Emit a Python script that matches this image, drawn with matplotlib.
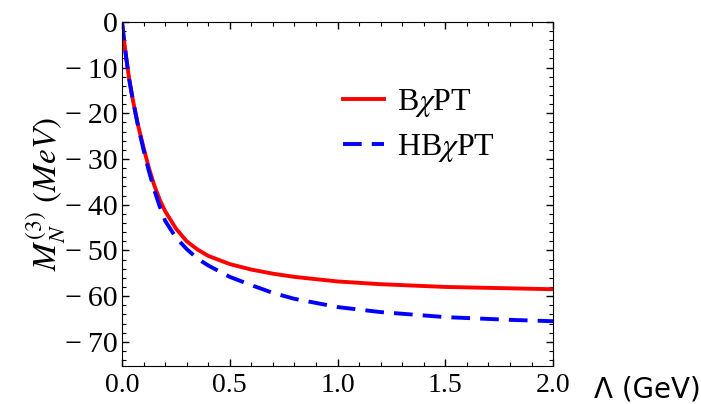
import numpy as np
import matplotlib.pyplot as plt
from matplotlib.ticker import MultipleLocator, FuncFormatter

# values
lam = [0, 0.01, 0.02, 0.035, 0.05, 0.075, 0.1, 0.125, 0.15, 0.175, 0.2, 0.25, 0.3, 0.35,
       0.4, 0.5, 0.6, 0.7, 0.8, 1.0, 1.2, 1.5, 1.8, 2.0]
m_bchpt = [0, -4.2, -8, -13, -17, -22.7, -27.5, -32, -35.8, -38.9, -41.4, -45.2, -48, -49.8,
           -51.2, -53, -54.2, -55.1, -55.8, -56.8, -57.4, -58.0, -58.3, -58.5]
m_hbchpt = [0, -4.2, -8, -13, -17, -22.9, -28, -32.7, -36.8, -40.4, -43.5, -47.2, -49.7, -51.8,
            -53.3, -55.8, -57.6, -59.3, -60.6, -62.4, -63.5, -64.6, -65.2, -65.5]

plt.rcParams['mathtext.fontset'] = 'stix'
plt.rcParams['font.family'] = 'Liberation Serif'

fig = plt.figure(figsize=(7.01, 4.04), dpi=100)
ax = fig.add_axes([0.174, 0.094, 0.615, 0.852])

ax.plot(lam, m_bchpt, color='#ff0000', lw=2.8, label=r'B$\chi$PT')
hb, = ax.plot(lam, m_hbchpt, color='#0000ff', lw=2.8, label=r'HB$\chi$PT')
hb.set_dashes([4.8, 2.6])

ax.set_xlim(0, 2.0)
ax.set_ylim(-75.3, 0)
ax.xaxis.set_major_locator(MultipleLocator(0.5))
ax.xaxis.set_minor_locator(MultipleLocator(0.1))
ax.yaxis.set_major_locator(MultipleLocator(10))
ax.yaxis.set_minor_locator(MultipleLocator(2))
ax.xaxis.set_major_formatter(FuncFormatter(lambda v, p: f'{v:.1f}'))
ax.yaxis.set_major_formatter(FuncFormatter(lambda v, p: '0' if v == 0 else f'\u2212\u2009{abs(v):.0f}'))
ax.tick_params(which='both', direction='in', top=True, right=True, pad=3)
ax.tick_params(axis='x', labelsize=20, pad=5)
ax.tick_params(axis='y', labelsize=21.5)
ax.tick_params(which='major', length=5, width=1)
ax.tick_params(which='minor', length=3, width=0.8)

ax.set_ylabel(r'$M_N^{(3)}\ (MeV)$', fontsize=24, labelpad=-2)

ax.legend(loc='upper left', bbox_to_anchor=(0.445, 0.893), frameon=False, fontsize=23,
          handlelength=1.3, handletextpad=0.4, labelspacing=0.4)

fig.text(0.848, 0.037, '\u039b (GeV)', family='DejaVu Sans', fontsize=20, ha='left', va='center')

fig.savefig('out.png', dpi=100)
